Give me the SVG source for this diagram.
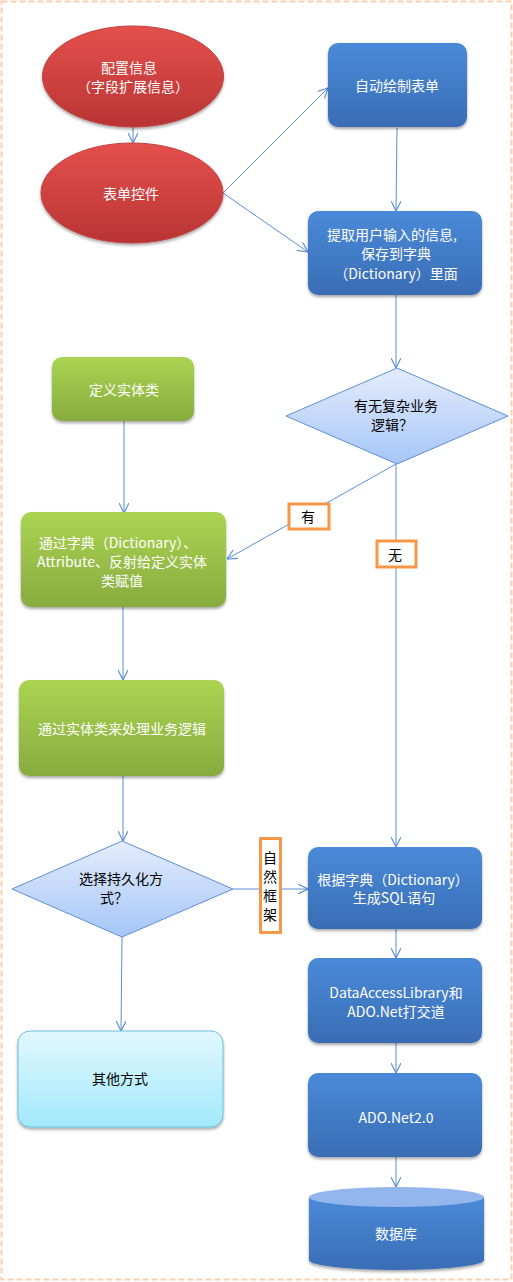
<svg xmlns="http://www.w3.org/2000/svg" width="513" height="1282" viewBox="0 0 513 1282">
<style>
text{font-family:"Noto Sans CJK SC","Liberation Sans",sans-serif;font-size:14px;text-anchor:middle;dominant-baseline:central}
.w{fill:#ffffff}
.k{fill:#000000}
.c{fill:none;stroke:#5b8fd6;stroke-width:1}
.lbl{fill:#ffffff;stroke:#f79646;stroke-width:3}
</style>
<defs>
<linearGradient id="gr" x1="0" y1="0" x2="0" y2="1"><stop offset="0" stop-color="#e5504c"/><stop offset="1" stop-color="#b93434"/></linearGradient>
<linearGradient id="gb" x1="0" y1="0" x2="0" y2="1"><stop offset="0" stop-color="#4a8ad8"/><stop offset="1" stop-color="#3a6db5"/></linearGradient>
<linearGradient id="gg" x1="0" y1="0" x2="0" y2="1"><stop offset="0" stop-color="#abd452"/><stop offset="1" stop-color="#88ab3e"/></linearGradient>
<linearGradient id="gd" x1="0" y1="0" x2="0" y2="1"><stop offset="0" stop-color="#e4ecfc"/><stop offset="1" stop-color="#a6c6f8"/></linearGradient>
<linearGradient id="gc" x1="0" y1="0" x2="0" y2="1"><stop offset="0" stop-color="#e2f8ff"/><stop offset="1" stop-color="#a2e8fb"/></linearGradient>
<filter id="sh" x="-10%" y="-10%" width="120%" height="130%"><feDropShadow dx="0" dy="2" stdDeviation="1.5" flood-color="#000" flood-opacity="0.35"/></filter>
<marker id="ar" viewBox="0 0 10 10" refX="10" refY="5" markerWidth="10" markerHeight="10" markerUnits="userSpaceOnUse" orient="auto"><path d="M0,0 L10,5 L0,10" fill="none" stroke="#5b8fd6" stroke-width="1.2"/></marker>
</defs>
<rect x="1.5" y="1.5" width="510" height="1278" fill="#ffffff" stroke="#fcd0ae" stroke-width="2" stroke-dasharray="6,3"/>

<g id="connectors" class="c">
<line x1="133" y1="127" x2="133" y2="143" marker-end="url(#ar)"/>
<line x1="223" y1="193" x2="328" y2="88" marker-end="url(#ar)"/>
<line x1="223" y1="193" x2="308" y2="252" marker-end="url(#ar)"/>
<line x1="397" y1="128" x2="396" y2="211" marker-end="url(#ar)"/>
<line x1="396" y1="295" x2="396" y2="368" marker-end="url(#ar)"/>
<line x1="124" y1="421" x2="124" y2="513" marker-end="url(#ar)"/>
<line x1="396" y1="464" x2="227" y2="559" marker-end="url(#ar)"/>
<line x1="396" y1="464" x2="396" y2="847" marker-end="url(#ar)"/>
<line x1="123" y1="607" x2="123" y2="680" marker-end="url(#ar)"/>
<line x1="123" y1="776" x2="123" y2="841" marker-end="url(#ar)"/>
<line x1="233" y1="889" x2="308" y2="889" marker-end="url(#ar)"/>
<line x1="122" y1="937" x2="121" y2="1031" marker-end="url(#ar)"/>
<line x1="396" y1="929" x2="396" y2="958" marker-end="url(#ar)"/>
<line x1="396" y1="1043" x2="396" y2="1073" marker-end="url(#ar)"/>
<line x1="396" y1="1157" x2="396" y2="1187" marker-end="url(#ar)"/>
</g>

<g id="n_config">
<ellipse cx="133" cy="76.5" rx="90.5" ry="50.5" fill="url(#gr)" stroke="#c04040" stroke-width="1" filter="url(#sh)"/>
<text class="w" x="129" y="67">配置信息</text>
<text class="w" x="133" y="86">（字段扩展信息）</text>
</g>
<g id="n_form">
<ellipse cx="132" cy="193" rx="91" ry="50" fill="url(#gr)" stroke="#c04040" stroke-width="1" filter="url(#sh)"/>
<text class="w" x="131" y="193">表单控件</text>
</g>
<g id="n_draw">
<rect x="328" y="43" width="139" height="84" rx="10" fill="url(#gb)" filter="url(#sh)"/>
<text class="w" x="397" y="85">自动绘制表单</text>
</g>
<g id="n_extract">
<rect x="308" y="211" width="174" height="84" rx="10" fill="url(#gb)" filter="url(#sh)"/>
<text class="w" x="392" y="234">提取用户输入的信息,</text>
<text class="w" x="396" y="253">保存到字典</text>
<text class="w" x="396" y="273">（Dictionary）里面</text>
</g>
<g id="n_decide1">
<polygon points="397,368 508,416 397,464 286,416" fill="url(#gd)" stroke="#5b8fd6" stroke-width="1"/>
<text class="k" x="396" y="405">有无复杂业务</text>
<text class="k" x="392" y="424">逻辑？</text>
</g>
<g id="n_entity">
<rect x="52" y="357" width="142" height="64" rx="10" fill="url(#gg)" filter="url(#sh)"/>
<text class="w" x="124" y="389">定义实体类</text>
</g>
<g id="n_assign">
<rect x="21" y="512" width="205" height="95" rx="10" fill="url(#gg)" filter="url(#sh)"/>
<text class="w" x="118" y="542">通过字典（Dictionary）、</text>
<text class="w" x="122" y="561">Attribute、反射给定义实体</text>
<text class="w" x="122" y="580">类赋值</text>
</g>
<g id="n_logic">
<rect x="19" y="680" width="205" height="96" rx="10" fill="url(#gg)" filter="url(#sh)"/>
<text class="w" x="122" y="728">通过实体类来处理业务逻辑</text>
</g>
<g id="n_decide2">
<polygon points="122,841 233,889 122,937 12,889" fill="url(#gd)" stroke="#5b8fd6" stroke-width="1"/>
<text class="k" x="121" y="878">选择持久化方</text>
<text class="k" x="114" y="897">式？</text>
</g>
<g id="n_other">
<rect x="18" y="1031" width="205" height="96" rx="12" fill="url(#gc)" stroke="#6cc0dc" stroke-width="1" filter="url(#sh)"/>
<text class="k" x="120" y="1078">其他方式</text>
</g>
<g id="n_sql">
<rect x="308" y="847" width="174" height="82" rx="10" fill="url(#gb)" filter="url(#sh)"/>
<text class="w" x="393" y="879">根据字典（Dictionary）</text>
<text class="w" x="394" y="897">生成SQL语句</text>
</g>
<g id="n_dal">
<rect x="308" y="958" width="174" height="85" rx="10" fill="url(#gb)" filter="url(#sh)"/>
<text class="w" x="396" y="992">DataAccessLibrary和</text>
<text class="w" x="396" y="1011">ADO.Net打交道</text>
</g>
<g id="n_ado">
<rect x="308" y="1073" width="174" height="84" rx="10" fill="url(#gb)" filter="url(#sh)"/>
<text class="w" x="396" y="1117">ADO.Net2.0</text>
</g>
<g id="n_db">
<path d="M309,1197 L309,1260 A87.5,10 0 0 0 484,1260 L484,1197 Z" fill="url(#gb)" filter="url(#sh)"/>
<ellipse cx="396.5" cy="1197" rx="87.5" ry="10" fill="#93b6ec"/>
<text class="w" x="396" y="1233">数据库</text>
</g>

<g id="labels">
<g id="l_you"><rect x="289" y="504" width="40" height="25" class="lbl"/><text class="k" x="308" y="516">有</text></g>
<g id="l_wu"><rect x="377" y="541" width="39" height="26" class="lbl"/><text class="k" x="395" y="554">无</text></g>
<g id="l_frame"><rect x="260.5" y="838.5" width="20" height="94" class="lbl"/>
<text class="k" x="270" y="857">自</text><text class="k" x="270" y="876">然</text><text class="k" x="270" y="895">框</text><text class="k" x="270" y="914">架</text></g>
</g>
</svg>
